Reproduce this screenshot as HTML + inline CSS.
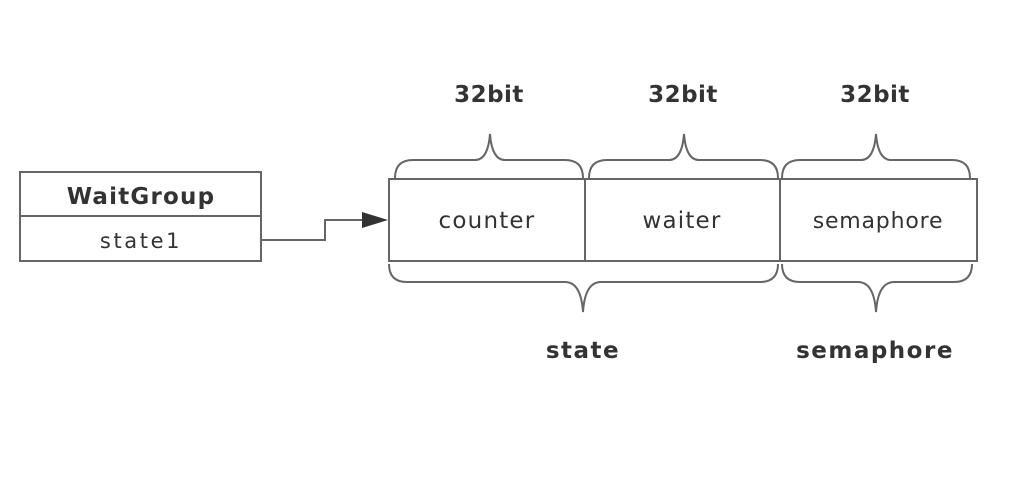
<!DOCTYPE html>
<html><head><style>
body{margin:0;background:#fff;}
svg text{font-family:"DejaVu Sans","Liberation Sans",sans-serif;fill:#333;}
</style></head><body>
<svg width="1028" height="476" viewBox="0 0 1028 476" xmlns="http://www.w3.org/2000/svg">
<g fill="none" stroke="#666" stroke-width="2">
<rect x="20" y="172" width="241" height="89"/>
<line x1="20" y1="216" x2="261" y2="216"/>
<rect x="389" y="179" width="588" height="82"/>
<line x1="585" y1="179" x2="585" y2="261"/>
<line x1="780" y1="179" x2="780" y2="261"/>
<polyline points="261,240 325,240 325,220 366,220"/>
<path d="M395,178 Q395,160 413,160 L475,160 Q488,160 490,134 Q492,160 505,160 L565,160 Q583,160 583,178"/>
<path d="M589,178 Q589,160 607,160 L669,160 Q682,160 684,134 Q686,160 699,160 L760,160 Q778,160 778,178"/>
<path d="M782,178 Q782,160 800,160 L861,160 Q874,160 876,134 Q878,160 891,160 L952,160 Q970,160 970,178"/>
<path d="M389,264 Q389,282 407,282 L565,282 Q581,282 583,312 Q585,282 601,282 L760,282 Q778,282 778,264"/>
<path d="M782,264 Q782,282 800,282 L858,282 Q874,282 876,312 Q878,282 894,282 L954,282 Q972,282 972,264"/>
</g>
<polygon points="362,212 388,220 362,228" fill="#333"/>
<g text-anchor="middle">
<text x="141" y="204" font-size="23" font-weight="bold" letter-spacing="1.2">WaitGroup</text>
<text x="141" y="248" font-size="21" letter-spacing="2.6">state1</text>
<text x="487" y="228" font-size="23" letter-spacing="1.2">counter</text>
<text x="682" y="228" font-size="23" letter-spacing="1.2">waiter</text>
<text x="878" y="228" font-size="22" letter-spacing="0.8">semaphore</text>
<text x="489" y="102" font-size="23" font-weight="bold" letter-spacing="0.5">32bit</text>
<text x="683" y="102" font-size="23" font-weight="bold" letter-spacing="0.5">32bit</text>
<text x="875" y="102" font-size="23" font-weight="bold" letter-spacing="0.5">32bit</text>
<text x="583" y="358" font-size="23" font-weight="bold" letter-spacing="1.5">state</text>
<text x="875" y="358" font-size="23" font-weight="bold" letter-spacing="1.5">semaphore</text>
</g>
</svg>
</body></html>
